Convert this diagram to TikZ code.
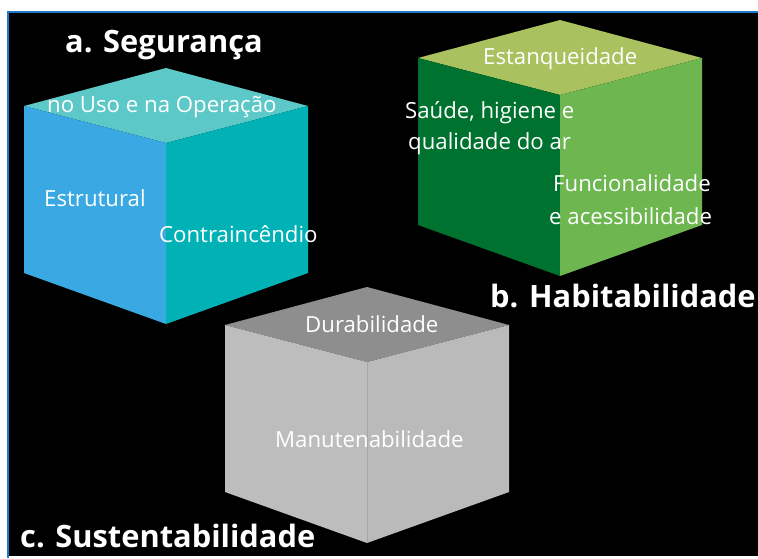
\documentclass[tikz,border=0pt]{standalone}
\usepackage{fontspec}
\setmainfont{Open Sans}
\begin{document}
\begin{tikzpicture}[x=1pt,y=-1pt,
  lbl/.style={text=white,inner sep=0pt,anchor=base west,font=\fontsize{22.2}{26}\selectfont},
  ttl/.style={text=white,inner sep=0pt,anchor=base west,font=\fontsize{30.8}{34}\selectfont\bfseries}]
\definecolor{aL}{HTML}{3AA8E2}
\definecolor{aR}{HTML}{00B2B5}
\definecolor{aT}{HTML}{5CC9C8}
\definecolor{bT}{HTML}{A9C15E}
\definecolor{bL}{HTML}{007230}
\definecolor{bR}{HTML}{6DB650}
\definecolor{cT}{HTML}{8E8E8E}
\definecolor{cL}{HTML}{BDBDBD}
\definecolor{cR}{HTML}{BABABA}
\definecolor{edge}{HTML}{1F78C8}
\useasboundingbox (0,0) rectangle (758,558);
\fill[white] (0,0) rectangle (758,558);
\fill[black] (8,12) rectangle (758,556);
\draw[edge,line width=1.6pt] (8,558) -- (8,12) -- (758,12);
% cube A
\begin{scope}[shift={(166,143)}]
\fill[aT] (0,0) -- (-142,-37) -- (0,-75) -- (142,-37) -- cycle;
\fill[aL] (0,0) -- (-142,-37) -- (-142,130) -- (0,181) -- cycle;
\fill[aR] (0,0) -- (142,-37) -- (142,130) -- (0,181) -- cycle;
\end{scope}
% cube B
\begin{scope}[shift={(560,95)}]
\fill[bT] (0,0) -- (-142,-37) -- (0,-75) -- (142,-37) -- cycle;
\fill[bL] (0,0) -- (-142,-37) -- (-142,130) -- (0,181) -- cycle;
\fill[bR] (0,0) -- (142,-37) -- (142,130) -- (0,181) -- cycle;
\end{scope}
% cube C
\begin{scope}[shift={(367,362)}]
\fill[cT] (0,0) -- (-142,-37) -- (0,-75) -- (142,-37) -- cycle;
\fill[cL] (0,0) -- (-142,-37) -- (-142,130) -- (0,181) -- cycle;
\fill[cR] (0,0) -- (142,-37) -- (142,130) -- (0,181) -- cycle;
\draw[gray!70,line width=0.6pt] (0,0) -- (0,181);
\end{scope}
% titles
\node[ttl] (ta) at (65,52) {a. Segurança};
\node[ttl] (tb) at (490,307) {b. Habitabilidade};
\node[ttl] (tc) at (20,547) {c. Sustentabilidade};
% labels A
\node[lbl] (a1) at (47,112) {no Uso e na Operação};
\node[lbl] (a2) at (44,206) {Estrutural};
\node[lbl] (a3) at (159,242) {Contraincêndio};
% labels B
\node[lbl] (b1) at (483,64) {Estanqueidade};
\node[lbl] (b2) at (405,118) {Saúde, higiene e};
\node[lbl] (b3) at (408,149) {qualidade do ar};
\node[lbl] (b4) at (553,191) {Funcionalidade};
\node[lbl] (b5) at (549,224) {e acessibilidade};
% labels C
\node[lbl] (c1) at (305,332) {Durabilidade};
\node[lbl] (c2) at (275,447) {Manutenabilidade};
\end{tikzpicture}
\end{document}
